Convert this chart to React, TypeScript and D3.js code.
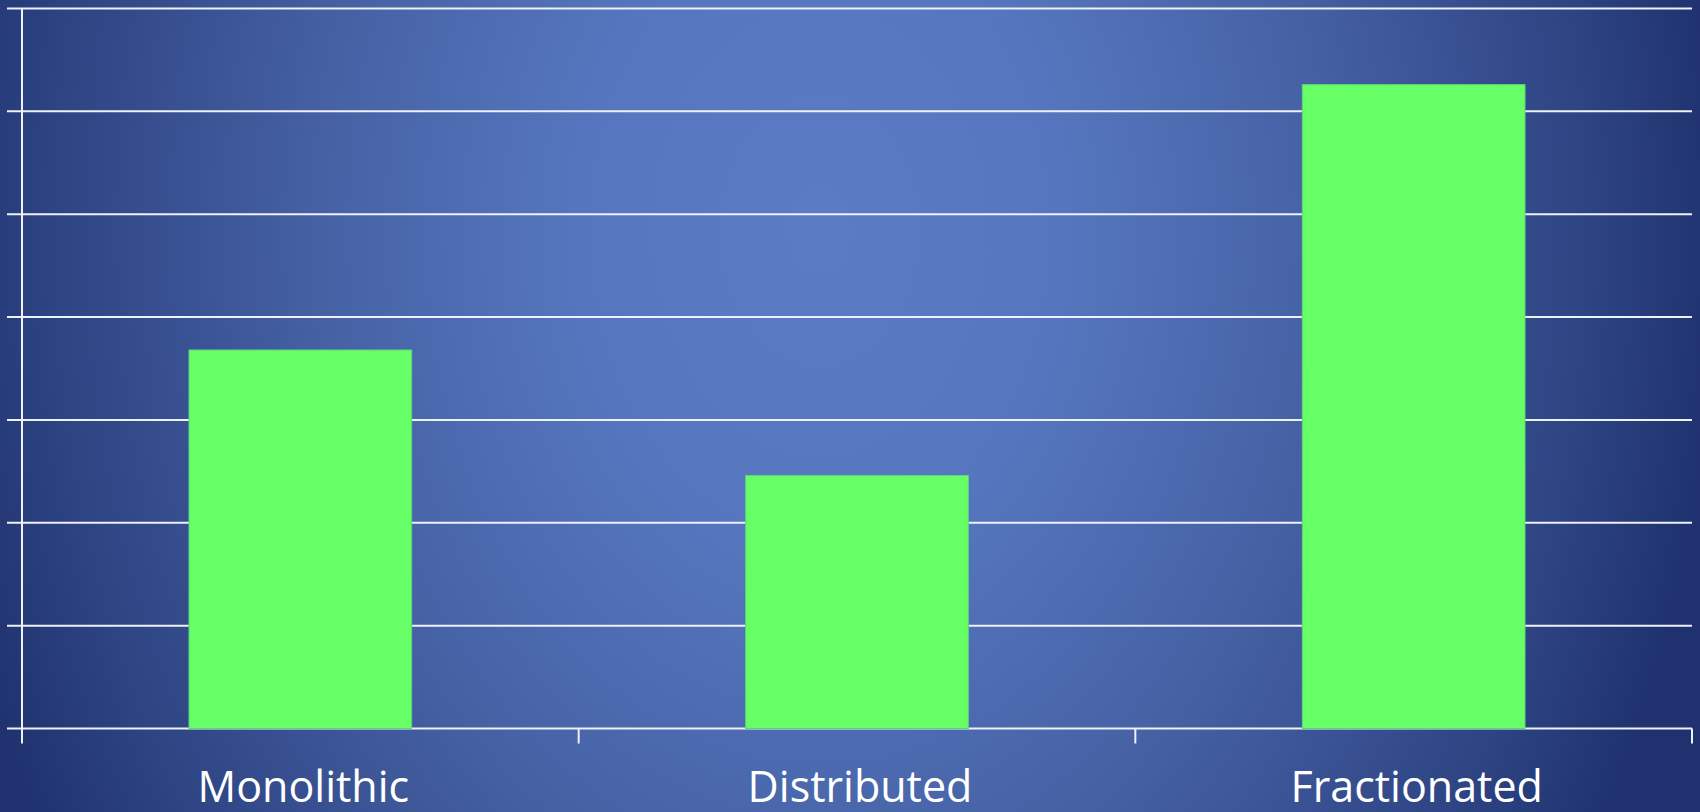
import React from "react";
import * as d3 from "d3";

const categories = ["Monolithic", "Distributed", "Fractionated"];
const values = [3.68, 2.46, 6.26];
const yTicks = [0, 1, 2, 3, 4, 5, 6, 7];

const W = 1700;
const H = 812;
const margin = { left: 22, right: 8, top: 8.5, bottom: 83.5 };

export default function App() {
  const x = d3
    .scaleBand<string>()
    .domain(categories)
    .range([margin.left, W - margin.right])
    .paddingInner(0.6)
    .paddingOuter(0.3);
  const xOuter = d3
    .scaleBand<string>()
    .domain(categories)
    .range([margin.left, W - margin.right])
    .padding(0);
  const y = d3
    .scaleLinear()
    .domain([0, 7])
    .range([H - margin.bottom, margin.top]);

  const x0 = margin.left;
  const x1 = W - margin.right;
  const yBase = y(0);
  const boundaries = [x0, ...categories.map((c) => (xOuter(c) as number) + xOuter.bandwidth())];

  return (
    <svg
      width={W}
      height={H}
      style={{ position: "absolute", left: 0, top: 0, display: "block" }}
    >
      <defs>
        <radialGradient
          id="bg"
          gradientUnits="userSpaceOnUse"
          cx={820}
          cy={230}
          r={900}
          gradientTransform="translate(820 230) scale(1 1.35) translate(-820 -230)"
        >
          <stop offset="0" stopColor="#5b7cc5" />
          <stop offset="0.25" stopColor="#5677c0" />
          <stop offset="0.55" stopColor="#4662a5" />
          <stop offset="0.85" stopColor="#2e4483" />
          <stop offset="1" stopColor="#1f326f" />
        </radialGradient>
      </defs>
      <rect x={0} y={0} width={W} height={H} fill="url(#bg)" />

      {yTicks.map((t) => (
        <line
          key={"g" + t}
          x1={7}
          x2={x1}
          y1={y(t)}
          y2={y(t)}
          stroke="#eef1f8"
          strokeWidth={2}
        />
      ))}

      <line x1={x0} x2={x0} y1={y(7)} y2={yBase + 15} stroke="#eef1f8" strokeWidth={2} />
      {boundaries.slice(1).map((b, i) => (
        <line key={"t" + i} x1={b} x2={b} y1={yBase} y2={yBase + 15} stroke="#eef1f8" strokeWidth={2} />
      ))}

      {categories.map((c, i) => (
        <rect
          key={c}
          x={x(c)}
          y={y(values[i])}
          width={x.bandwidth()}
          height={yBase - y(values[i])}
          fill="#66ff66"
          stroke="#5fd27e"
          strokeWidth={1}
        />
      ))}

      {categories.map((c) => (
        <text
          key={"l" + c}
          x={(xOuter(c) as number) + xOuter.bandwidth() / 2 + 3}
          y={802}
          textAnchor="middle"
          fill="#ffffff"
          fontFamily="'Open Sans', sans-serif"
          fontSize={43}
        >
          {c}
        </text>
      ))}
    </svg>
  );
}
